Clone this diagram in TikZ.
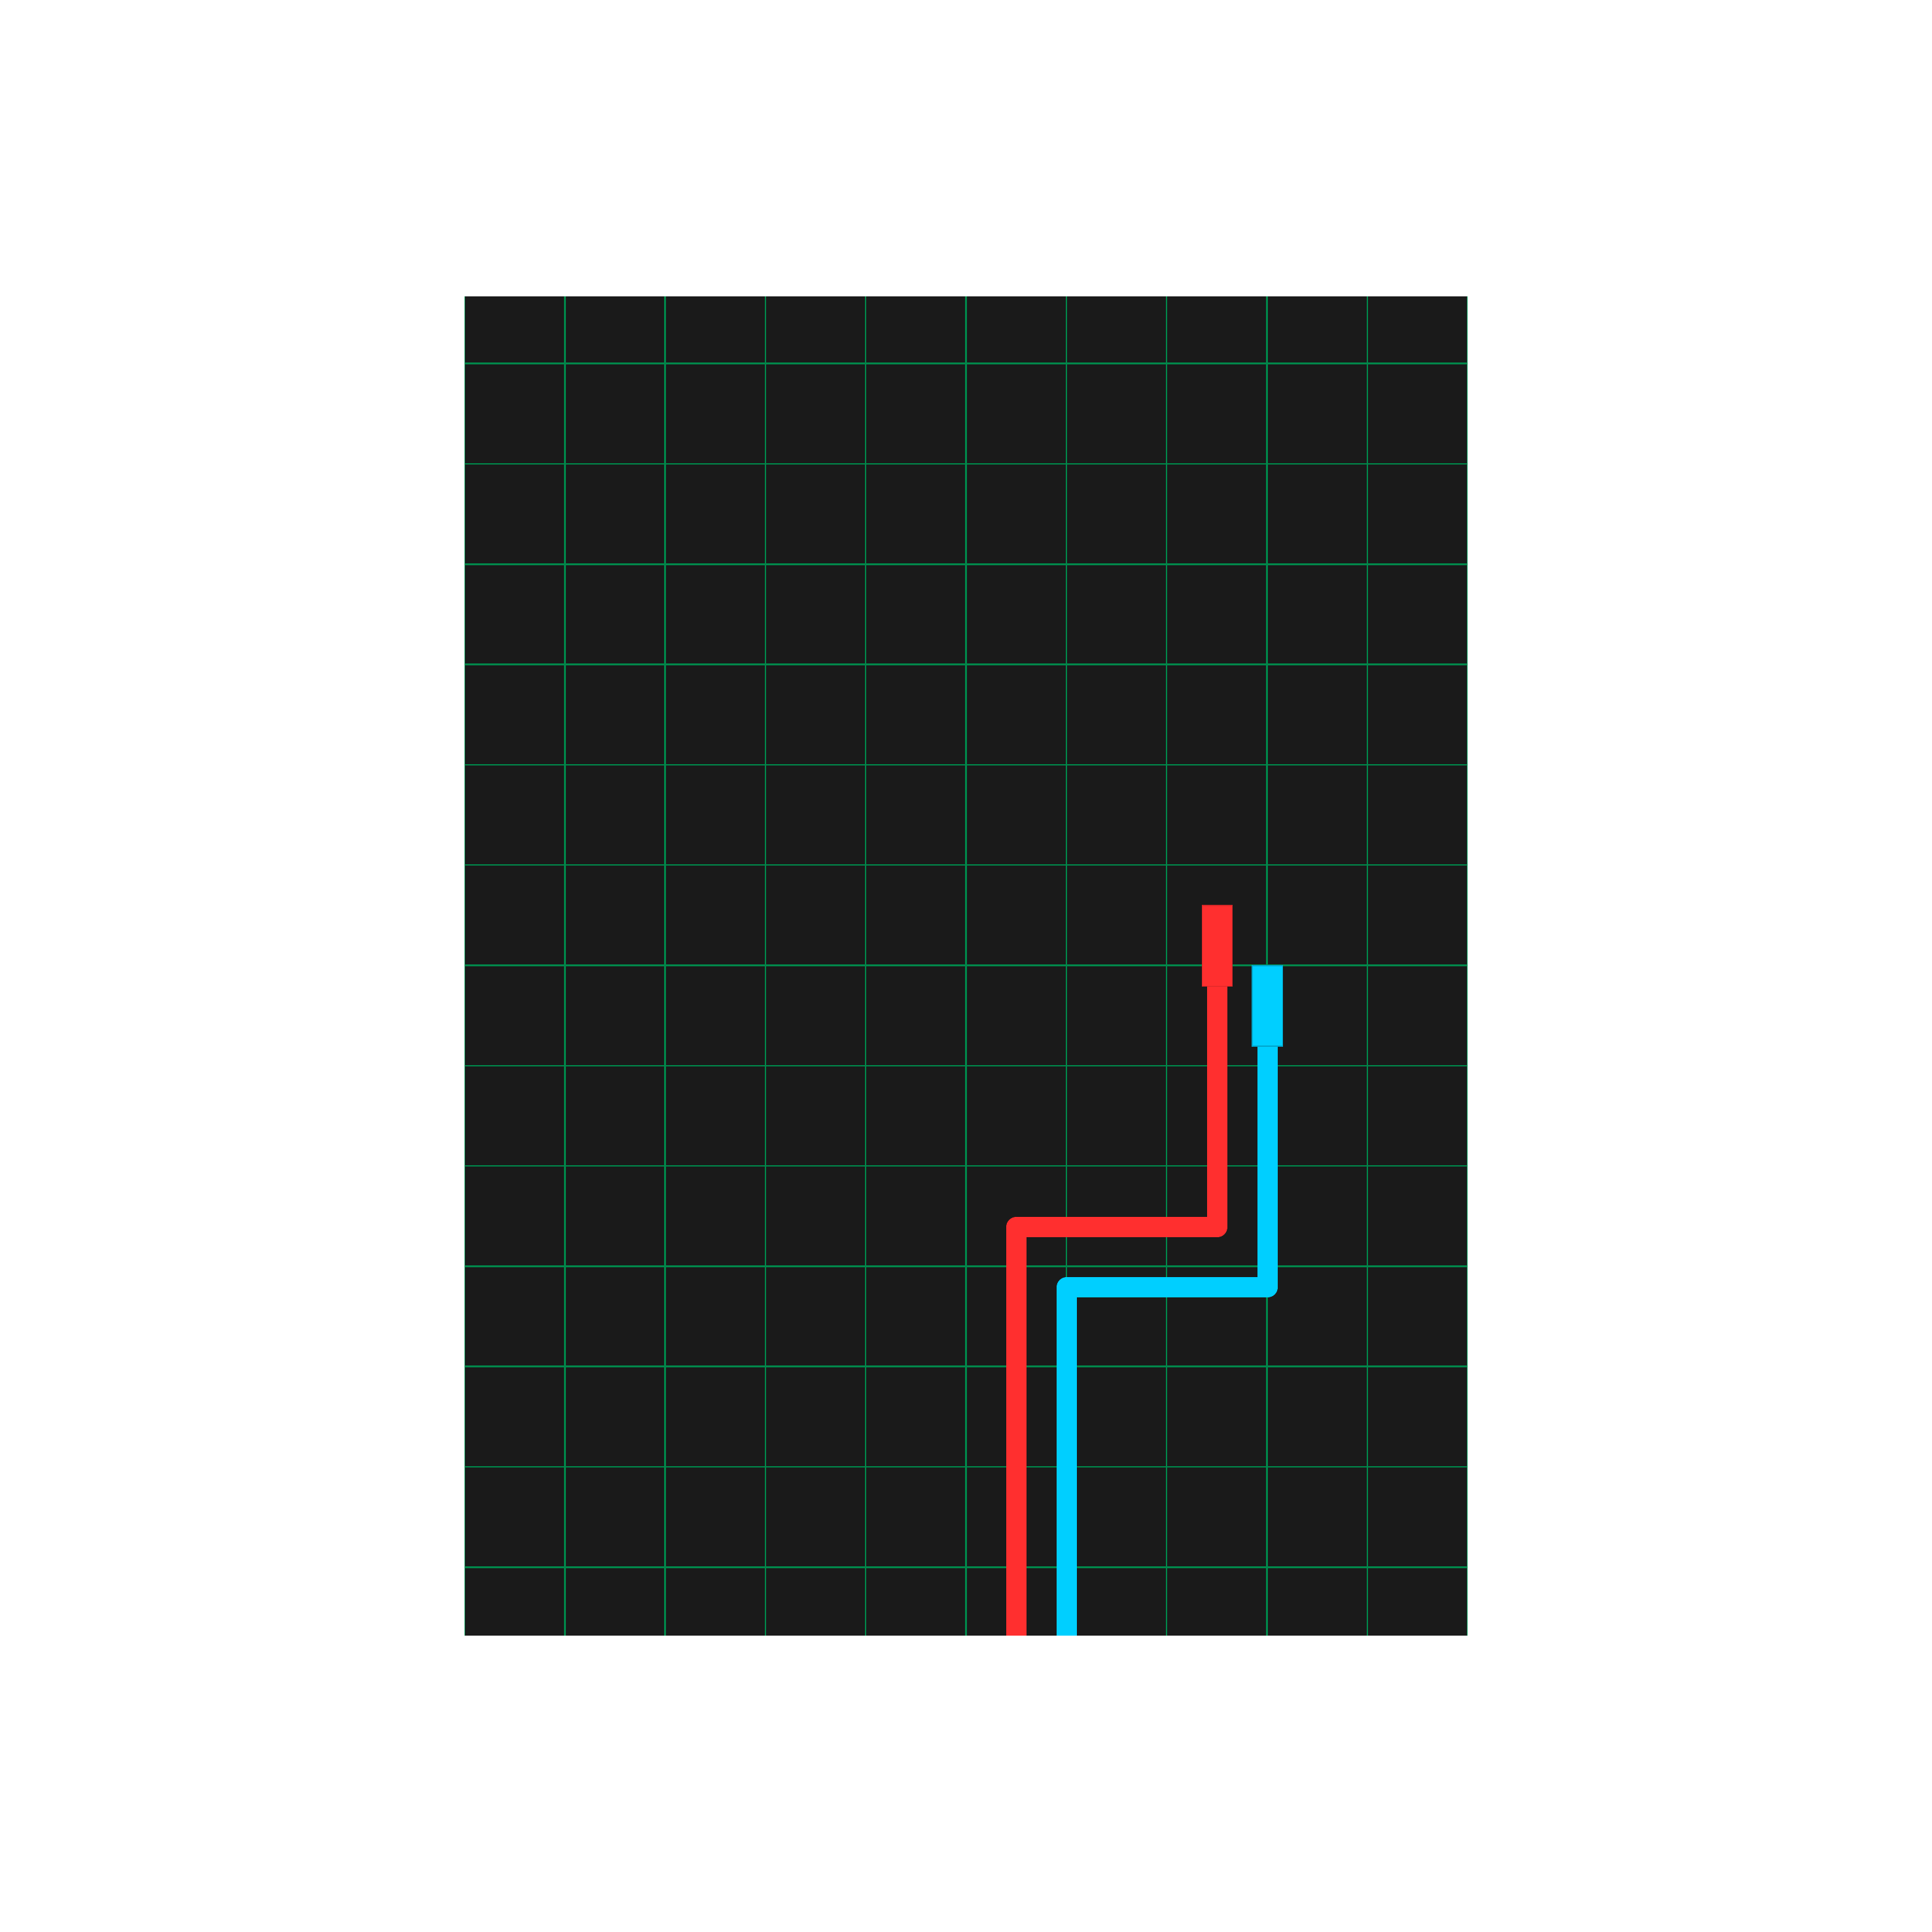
\documentclass[tikz,border=0pt]{standalone}
\usepackage{xcolor}
\usepackage{tikz}

\definecolor{board}{HTML}{1A1A1A}
\definecolor{gridgreen}{HTML}{00874A}
\definecolor{wirered}{HTML}{FF2F2F}
\definecolor{wireblue}{HTML}{00CFFF}

\tikzset{
  wire/.style={line width=0.31cm, line join=round, line cap=butt},
  plug/.style={rectangle, minimum width=0.464cm, minimum height=1.233cm, inner sep=0pt, line width=0.4pt}
}

\begin{document}
\begin{tikzpicture}
      \useasboundingbox[fill=white] (0,0) rectangle (29.53,29.53);

      % board with grid
      \fill[board] (7.10,4.53) rectangle (22.43,25.00);
      \begin{scope}
        \clip (7.10,4.53) rectangle (22.43,25.00);
        \foreach \i in {0,...,10}
          \draw[gridgreen, line width=0.7pt] (7.10+1.533*\i,4.53) -- (7.10+1.533*\i,25.00);
        \foreach \j in {0,...,12}
          \draw[gridgreen, line width=0.7pt] (7.10,23.973-1.533*\j) -- (22.43,23.973-1.533*\j);
      \end{scope}

      \node[plug, fill=wirered, draw=wirered!85!black] (redplug) at (18.605,15.073) {};
      \node[plug, fill=wireblue, draw=wireblue!80!black] (blueplug) at (19.373,14.155) {};

      \coordinate (redbend) at (15.537,10.775);
      \coordinate (redend) at (15.537,4.53);
      \coordinate (bluebend) at (16.307,9.855);
      \coordinate (blueend) at (16.307,4.53);

      \draw[wire, wirered] (redplug.south) |- (redbend) -- (redend);
      \draw[wire, wireblue] (blueplug.south) |- (bluebend) -- (blueend);
    \end{tikzpicture}
\end{document}
